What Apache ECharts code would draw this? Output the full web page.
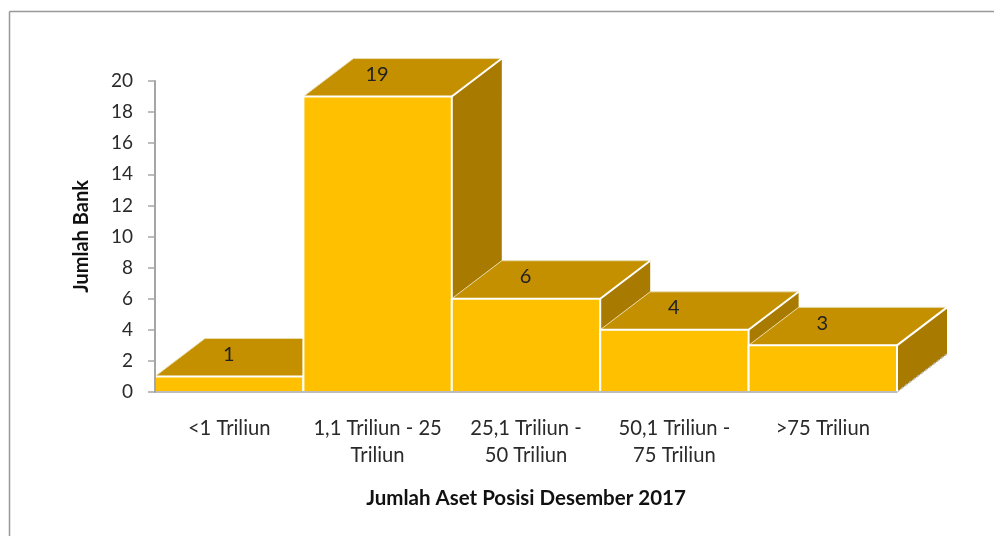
<!DOCTYPE html>
<html>
<head>
<meta charset="utf-8">
<style>html,body{margin:0;padding:0;background:#fff}#c{width:994px;height:536px}</style>
<script src="https://cdn.jsdelivr.net/npm/echarts@6/dist/echarts.min.js"></script>
</head>
<body>
<div id="c"></div>
<script>
const categories = ['<1 Triliun', '1,1 Triliun - 25\nTriliun', '25,1 Triliun -\n50 Triliun', '50,1 Triliun -\n75 Triliun', '>75 Triliun'];
const bankCounts = [1, 19, 6, 4, 3];
const yAxisTitle = 'Jumlah Bank';
const xAxisTitle = 'Jumlah Aset Posisi Desember 2017';

const FONT = 'Lato, "Open Sans", sans-serif';
const DEPTH_X = 50;
const DEPTH_Y = 38;

// Draws one extruded block: side face, top face, front face and its value.
function renderBlock(params, api) {
  const i = api.value(0);
  const v = api.value(1);
  const base = api.coord([i, 0]);
  const top = api.coord([i, v]);
  const w = api.size([1, 0])[0];
  const l = base[0] - w / 2, r = base[0] + w / 2;
  const face = (pts, fill, extra) => ({
    type: 'polygon',
    shape: { points: pts },
    style: Object.assign({ fill }, extra)
  });
  const edge = (x1, y1, x2, y2, style) => ({
    type: 'line',
    shape: { x1, y1, x2, y2 },
    style: Object.assign({ stroke: '#fff', lineWidth: 2 }, style)
  });
  return {
    type: 'group',
    children: [
      face([[r, top[1]], [r + DEPTH_X, top[1] - DEPTH_Y], [r + DEPTH_X, base[1] - DEPTH_Y], [r, base[1]]], '#a87b00'),
      edge(r, base[1], r + DEPTH_X, base[1] - DEPTH_Y, { stroke: '#bdbdbd', lineWidth: 1.5, lineDash: [3, 2] }),
      face([[l, top[1]], [l + DEPTH_X, top[1] - DEPTH_Y], [r + DEPTH_X, top[1] - DEPTH_Y], [r, top[1]]], '#c49000',
        { stroke: '#e8dcb0', lineWidth: 1 }),
      edge(r, top[1], r + DEPTH_X, top[1] - DEPTH_Y),
      face([[l, top[1]], [r, top[1]], [r, base[1]], [l, base[1]]], '#ffc000',
        { stroke: '#fff', lineWidth: 2, lineJoin: 'round' }),
      {
        type: 'text',
        x: base[0] - 0.5, y: top[1] - 22,
        style: { text: String(v), fill: '#222', font: '20px ' + FONT, align: 'center', verticalAlign: 'middle' }
      }
    ]
  };
}

const chart = echarts.init(document.getElementById('c'), null, { renderer: 'canvas' });
chart.setOption({
  animation: false,
  backgroundColor: '#fff',
  grid: { left: 155, top: 81, width: 742, height: 311, containLabel: false },
  graphic: [
    { type: 'line', shape: { x1: 9.5, y1: 11.5, x2: 994, y2: 11.5 }, style: { stroke: '#999', lineWidth: 1.5 } },
    { type: 'line', shape: { x1: 9.5, y1: 11.5, x2: 9.5, y2: 536 }, style: { stroke: '#999', lineWidth: 1.5 } }
  ],
  xAxis: {
    type: 'category',
    z: 5,
    data: categories,
    name: xAxisTitle,
    nameLocation: 'middle',
    nameGap: 96,
    nameTextStyle: { fontFamily: FONT, fontWeight: 'bold', fontSize: 20.5, color: '#111' },
    axisTick: { show: false },
    axisLine: { lineStyle: { color: '#a6a6a6', width: 1.5 } },
    axisLabel: { interval: 0, margin: 23, fontFamily: FONT, fontSize: 20.2, color: '#2a2a2a', lineHeight: 27 }
  },
  yAxis: {
    type: 'value',
    z: 5,
    min: 0, max: 20, interval: 2,
    name: yAxisTitle,
    nameLocation: 'middle',
    nameGap: 63,
    nameTextStyle: { fontFamily: FONT, fontWeight: 'bold', fontSize: 20, color: '#111' },
    splitLine: { show: false },
    axisLine: { show: true, lineStyle: { color: '#a6a6a6', width: 2 } },
    axisTick: { show: true, length: 7, lineStyle: { color: '#a6a6a6', width: 1.5 } },
    axisLabel: { margin: 22, fontFamily: FONT, fontSize: 19, color: '#2a2a2a' }
  },
  series: [{
    type: 'custom',
    renderItem: renderBlock,
    encode: { x: 0, y: 1 },
    clip: false,
    data: bankCounts.map((v, i) => [i, v])
  }]
});
</script>
</body>
</html>
